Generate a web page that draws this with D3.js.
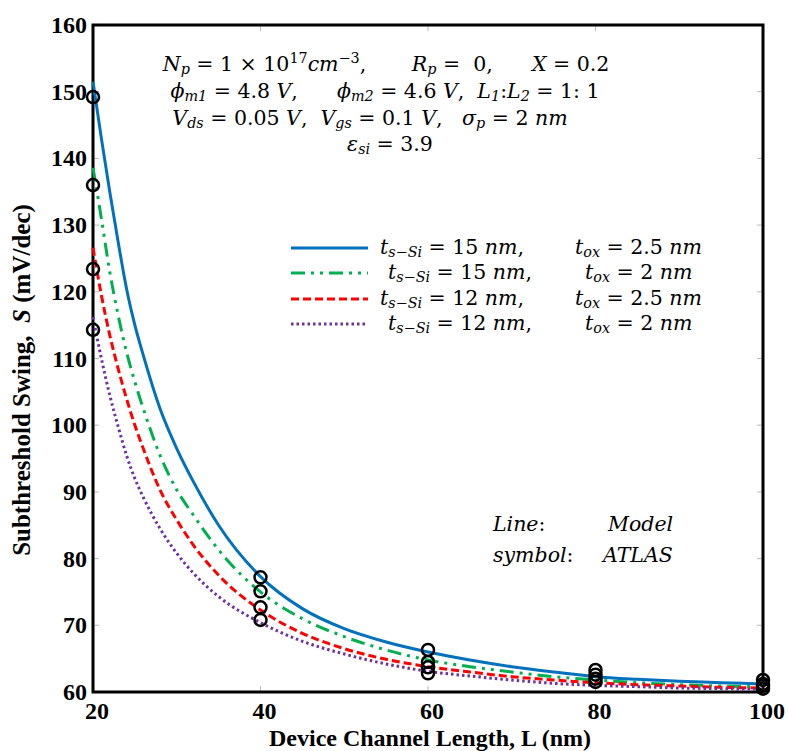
<!DOCTYPE html>
<html>
<head>
<meta charset="utf-8">
<script src="https://cdn.jsdelivr.net/npm/d3@7"></script>
<style>
body { margin: 0; background: #fff; }
text { font-family: "Liberation Serif", "Times New Roman", serif; white-space: pre; }
text.math { font-family: "DejaVu Serif", serif; }
</style>
</head>
<body>
<div id="chart-area"></div>
<script>
// channel lengths (nm) where the model curves were read
var lengths = [20, 21, 22, 23, 24, 25, 26, 28, 30, 32, 35, 40, 45, 50, 55, 60, 65, 70, 75, 80, 85, 90, 95, 100];

// model curves, S in mV/dec
var blueModel = [151.5, 143, 135, 127.5, 120.5, 115, 110.5, 102.5, 96.5, 91.5, 85, 77.3, 72.5, 69.5, 67.5, 66, 64.8, 63.8, 63, 62.3, 61.9, 61.6, 61.4, 61.2];
var greenModel = [138.6, 131, 123, 116.5, 111, 106.5, 102.5, 95.5, 90.3, 86.5, 81.3, 75, 71, 68.3, 66.3, 64.8, 63.8, 63, 62.3, 61.8, 61.4, 61.1, 60.9, 60.8];
var redModel = [126.6, 119.5, 113.5, 108.5, 104, 100, 96.5, 90.3, 85.8, 82, 77.5, 72.3, 68.8, 66.5, 64.9, 63.8, 63, 62.3, 61.8, 61.4, 61.1, 60.9, 60.7, 60.6];
var purpleModel = [116.2, 110, 104.5, 99.8, 95.5, 92, 89.2, 84.5, 80.8, 77.8, 74.3, 70.4, 67.6, 65.7, 64.2, 63.1, 62.4, 61.8, 61.3, 61, 60.8, 60.6, 60.5, 60.4];

// ATLAS symbols
var atlasLengths = [20, 40, 60, 80, 100];
var blueAtlas = [149.2, 77.2, 66.3, 63.3, 61.8];
var greenAtlas = [136, 75.1, 64.5, 62.6, 61.2];
var redAtlas = [123.4, 72.7, 63.7, 62, 60.9];
var purpleAtlas = [114.3, 70.8, 62.8, 61.5, 60.5];

var xTicks = [20, 40, 60, 80, 100];
var yTicks = [60, 70, 80, 90, 100, 110, 120, 130, 140, 150, 160];

var series = [
	{ model: blueModel, atlas: blueAtlas, color: "#0072BD", dash: null, width: 3,
		tsi: "15", tox: "2.5", tx: 380, ox: 575 },
	{ model: greenModel, atlas: greenAtlas, color: "#00B050", dash: "14,6,3,6,3,6", width: 3,
		tsi: "15", tox: "2", tx: 388, ox: 585 },
	{ model: redModel, atlas: redAtlas, color: "#FF0000", dash: "8,4", width: 3,
		tsi: "12", tox: "2.5", tx: 380, ox: 575 },
	{ model: purpleModel, atlas: purpleAtlas, color: "#7030A0", dash: "2.5,3", width: 3,
		tsi: "12", tox: "2", tx: 388, ox: 585 }
];

var plot = { left: 93, right: 763, top: 25, bottom: 692 };

var svg = d3.select("#chart-area")
	.append("svg")
	.attr("width", 788)
	.attr("height", 751);

var x = d3.scaleLinear().domain([20, 100]).range([plot.left, plot.right]);
var y = d3.scaleLinear().domain([60, 160]).range([plot.bottom, plot.top]);

// light inner ticks
var tickG = svg.append("g").attr("stroke", "#bbb").attr("stroke-width", 1);
yTicks.forEach(function(v){
	tickG.append("line").attr("x1", plot.left).attr("x2", plot.left + 6).attr("y1", y(v)).attr("y2", y(v));
	tickG.append("line").attr("x1", plot.right).attr("x2", plot.right - 6).attr("y1", y(v)).attr("y2", y(v));
});
xTicks.forEach(function(v){
	tickG.append("line").attr("x1", x(v)).attr("x2", x(v)).attr("y1", plot.bottom).attr("y2", plot.bottom - 6);
	tickG.append("line").attr("x1", x(v)).attr("x2", x(v)).attr("y1", plot.top).attr("y2", plot.top + 6);
});

// frame
svg.append("rect")
	.attr("x", plot.left).attr("y", plot.top)
	.attr("width", plot.right - plot.left)
	.attr("height", plot.bottom - plot.top)
	.attr("fill", "none")
	.attr("stroke", "#000")
	.attr("stroke-width", 3);

// tick labels
svg.append("g").selectAll("text").data(yTicks).enter().append("text")
	.attr("x", 87).attr("y", function(d){ return y(d) + 8; })
	.attr("text-anchor", "end")
	.style("font-size", "24px").style("font-weight", "bold")
	.text(function(d){ return d; });

svg.append("g").selectAll("text").data(xTicks).enter().append("text")
	.attr("x", function(d){ return x(d) + 4; }).attr("y", 719)
	.attr("text-anchor", "middle")
	.style("font-size", "24px").style("font-weight", "bold")
	.text(function(d){ return d; });

// axis titles
var yTitle = svg.append("text")
	.attr("transform", "translate(30, 380) rotate(-90)")
	.attr("text-anchor", "middle")
	.style("font-size", "25px").style("font-weight", "bold");
yTitle.append("tspan").text("Subthreshold Swing,  ");
yTitle.append("tspan").style("font-style", "italic").text("S");
yTitle.append("tspan").text(" (mV/dec)");

svg.append("text")
	.attr("x", 430).attr("y", 746)
	.attr("text-anchor", "middle")
	.style("font-size", "24px").style("font-weight", "bold")
	.text("Device Channel Length, L (nm)");

// model lines
var line = d3.line()
	.x(function(d, i){ return x(lengths[i]); })
	.y(function(d){ return y(d); })
	.curve(d3.curveMonotoneX);

series.forEach(function(s){
	svg.append("path")
		.attr("d", line(s.model))
		.attr("fill", "none")
		.attr("stroke", s.color)
		.attr("stroke-width", s.width)
		.attr("stroke-dasharray", s.dash);
});

// ATLAS symbols
series.forEach(function(s){
	svg.append("g").selectAll("circle").data(s.atlas).enter().append("circle")
		.attr("cx", function(d, i){ return x(atlasLengths[i]); })
		.attr("cy", function(d){ return y(d); })
		.attr("r", 6)
		.attr("fill", "none")
		.attr("stroke", "#000")
		.attr("stroke-width", 2.5);
});

// rich text helper: segments of [text, flags] with i = italic, sub, sup
function richText(parent, px, py, segs, size, anchor){
	var t = parent.append("text")
		.attr("class", "math")
		.attr("x", px).attr("y", py)
		.attr("text-anchor", anchor || "start")
		.style("font-size", size + "px");
	var shift = 0;
	segs.forEach(function(s){
		var flags = s[1] || "";
		var target = 0;
		if (flags.indexOf("sub") >= 0) target = size * 0.17;
		if (flags.indexOf("sup") >= 0) target = -size * 0.38;
		var ts = t.append("tspan").attr("dy", target - shift).text(s[0]);
		shift = target;
		if (flags.indexOf("i") >= 0) ts.style("font-style", "italic");
		if (target !== 0) ts.style("font-size", (size * 0.7) + "px");
	});
	return t;
}

var fs = 20.5;

// parameter block
richText(svg, 386, 71, [
	["N", "i"], ["p", "i sub"], [" = 1 × 10"], ["17", "sup"], ["cm", "i"], ["−3", "sup"],
	[",       "], ["R", "i"], ["p", "i sub"], [" =  0,      "], ["X", "i"], [" = 0.2"]
], fs, "middle");
richText(svg, 385, 98, [
	["ϕ", "i"], ["m1", "i sub"], [" = 4.8 "], ["V", "i"], [",      "],
	["ϕ", "i"], ["m2", "i sub"], [" = 4.6 "], ["V", "i"], [",  "],
	["L", "i"], ["1", "i sub"], [":"], ["L", "i"], ["2", "i sub"], [" = 1: 1"]
], fs, "middle");
richText(svg, 370, 125, [
	["V", "i"], ["ds", "i sub"], [" = 0.05 "], ["V", "i"], [",  "],
	["V", "i"], ["gs", "i sub"], [" = 0.1 "], ["V", "i"], [",   "],
	["σ", "i"], ["p", "i sub"], [" = 2 "], ["nm", "i"]
], fs, "middle");
richText(svg, 390, 151, [
	["ε", "i"], ["si", "i sub"], [" = 3.9"]
], fs, "middle");

// legend
var legendRows = [248, 273, 299, 324];
series.forEach(function(s, i){
	svg.append("line")
		.attr("x1", 291).attr("x2", 368)
		.attr("y1", legendRows[i]).attr("y2", legendRows[i])
		.attr("stroke", s.color)
		.attr("stroke-width", s.width)
		.attr("stroke-dasharray", s.dash);
	richText(svg, s.tx, legendRows[i] + 6, [
		["t", "i"], ["s−Si", "i sub"], [" = " + s.tsi + " "], ["nm", "i"], [","]
	], fs, "start");
	richText(svg, s.ox, legendRows[i] + 6, [
		["t", "i"], ["ox", "i sub"], [" = " + s.tox + " "], ["nm", "i"]
	], fs, "start");
});

// line / symbol note
richText(svg, 493, 531, [["Line", "i"], [":"]], fs, "start");
richText(svg, 608, 531, [["Model", "i"]], fs, "start");
richText(svg, 493, 562, [["symbol", "i"], [":"]], fs, "start");
richText(svg, 603, 562, [["ATLAS", "i"]], fs, "start");
</script>
</body>
</html>
